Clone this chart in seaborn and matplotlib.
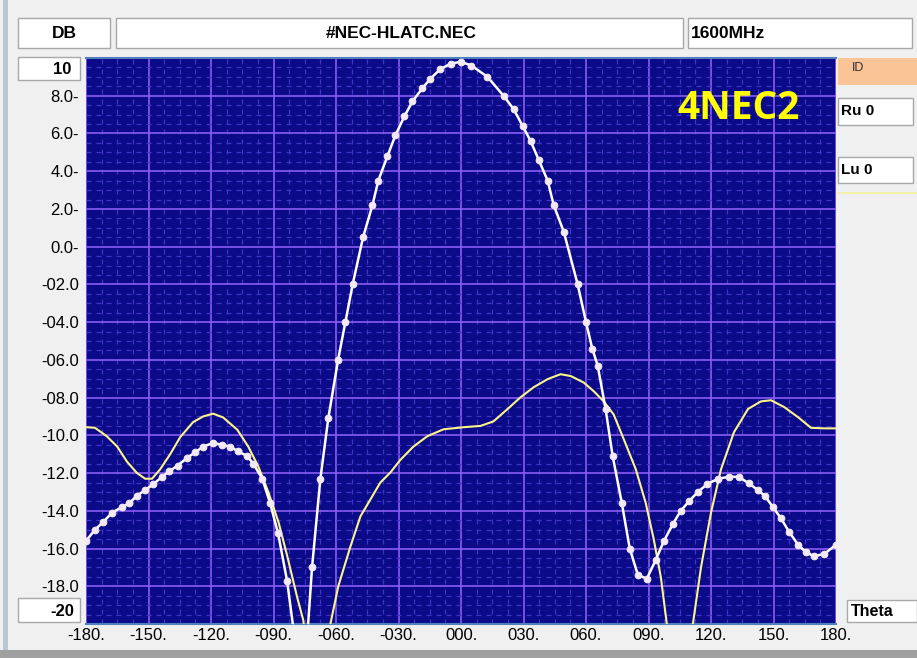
import matplotlib
matplotlib.use("Agg")
import matplotlib.pyplot as plt
from matplotlib.patches import Rectangle
from matplotlib.ticker import MultipleLocator
import seaborn as sns
import numpy as np

# ---------------- data ----------------
theta_white = [-180, -175.7, -171.8, -167.5, -162.7, -159.3, -155.5, -151.6, -147.8, -143.5,
               -140, -136, -131.5, -127.6, -123.8, -119, -114.6, -110.8, -107, -102.6,
               -99.7, -95.4, -91.6, -87.8, -83.5, -80.5, -77, -73.5, -71.5, -67.5,
               -63.7, -59, -55.5, -52, -47, -42.5, -39.7, -35.3, -31.5, -27.2,
               -23.3, -18.5, -14.7, -10, -5, 0, 5, 12.7, 20.4, 25.2,
               29.6, 33.4, 37.3, 41.6, 44.5, 49.3, 56, 60, 63, 65.6,
               69.4, 72.8, 77.2, 81, 84.9, 89.2, 93.5, 97.4, 101.7, 105.5,
               109.4, 113.7, 118, 123.3, 128.6, 133.4, 138.2, 142.5, 145.8, 149.7,
               153.6, 157.4, 161.8, 165.6, 169.4, 174.2, 180]
db_white = [-15.6, -15.0, -14.6, -14.1, -13.8, -13.6, -13.2, -12.9, -12.6, -12.2,
            -11.9, -11.6, -11.2, -10.9, -10.6, -10.4, -10.5, -10.6, -10.85, -11.1,
            -11.5, -12.3, -13.6, -15.2, -17.7, -20.2, -26.0, -20.2, -17.0, -12.3,
            -9.1, -6.0, -4.0, -2.0, 0.5, 2.2, 3.5, 4.8, 5.9, 6.9,
            7.7, 8.4, 8.9, 9.4, 9.7, 9.8, 9.6, 9.0, 8.0, 7.3,
            6.4, 5.6, 4.6, 3.5, 2.2, 0.8, -2.0, -4.0, -5.4, -6.3,
            -8.6, -11.1, -13.6, -16.0, -17.4, -17.6, -16.6, -15.6, -14.7, -14.0,
            -13.5, -13.0, -12.6, -12.3, -12.2, -12.2, -12.55, -12.9, -13.2, -13.8,
            -14.4, -15.1, -15.8, -16.2, -16.4, -16.3, -15.8]

theta_yellow = [-180, -175.7, -170, -165, -160.3, -155.5, -151.6, -148.3, -144.4, -139.6,
                -134.8, -128.6, -123.8, -119, -114.2, -107.4, -102.1, -97.3, -92.5, -87.6,
                -83.4, -78.6, -75.7, -74.5, -69, -63.4, -62.7, -58.9, -53.1, -48.3,
                -43.5, -38.7, -33.9, -29.1, -22.9, -16.2, -8.4, 1.2, 9.4, 15.6,
                22.4, 28.6, 34.9, 41.6, 47.8, 52.7, 58.9, 63.7, 68.5, 73.3,
                78.1, 83.9, 88.7, 92.5, 95.9, 98.8, 100, 105, 110, 111.3,
                115.2, 120, 124.8, 131, 137.8, 144, 148.8, 155.1, 161.8, 168,
                174.2, 180]
db_yellow = [-9.57, -9.6, -10.05, -10.6, -11.4, -12.0, -12.3, -12.3, -11.8, -11.0,
             -10.1, -9.3, -9.0, -8.85, -9.05, -9.7, -10.6, -11.65, -13.0, -14.6,
             -16.4, -18.6, -19.8, -21.0, -30.0, -21.0, -20.0, -18.0, -15.9, -14.3,
             -13.4, -12.5, -11.97, -11.3, -10.6, -10.05, -9.68, -9.57, -9.5, -9.26,
             -8.6, -7.98, -7.45, -7.02, -6.76, -6.86, -7.2, -7.66, -8.2, -8.9,
             -10.2, -11.8, -13.6, -15.5, -17.5, -20.0, -21.5, -30.0, -21.5, -20.0,
             -17.0, -14.1, -11.8, -9.84, -8.6, -8.2, -8.14, -8.5, -9.04, -9.6,
             -9.63, -9.63]

x_ticks = [-180, -150, -120, -90, -60, -30, 0, 30, 60, 90, 120, 150, 180]
x_labels = ["-180.", "-150.", "-120.", "-090.", "-060.", "-030.", "000.",
            "030.", "060.", "090.", "120.", "150.", "180."]
y_ticks = [8, 6, 4, 2, 0, -2, -4, -6, -8, -10, -12, -14, -16, -18]
y_labels = ["8.0-", "6.0-", "4.0-", "2.0-", "0.0-", "-02.0", "-04.0", "-06.0",
            "-08.0", "-10.0", "-12.0", "-14.0", "-16.0", "-18.0"]

title_file = "#NEC-HLATC.NEC"
title_freq = "1600MHz"
unit_label = "DB"
logo = "4NEC2"

# ---------------- figure ----------------
W, H = 917, 658
FONT = ["Liberation Sans", "DejaVu Sans"]
fig = plt.figure(figsize=(W / 100, H / 100), dpi=100, facecolor="#f0f0f0")


def box(x, y, w, h, fc="white", ec="#a8a8a8", lw=1.0, z=1):
    fig.add_artist(Rectangle((x / W, 1 - (y + h) / H), w / W, h / H,
                             transform=fig.transFigure, facecolor=fc,
                             edgecolor=ec, linewidth=lw, zorder=z))


def ftext(x, y, s, ha="center", **kw):
    fig.text(x / W, 1 - y / H, s, ha=ha, va="center", **kw)


# window frame
box(3, 0, 5, 650, fc="#b9c6d3", ec="none")
box(0, 650, W, 8, fc="#a0a0a0", ec="none")
# header boxes
box(18, 18, 92, 30)
box(116, 18, 567, 30)
box(688, 18, 224, 30)
ftext(64, 33, unit_label, fontsize=12.5, family=FONT, weight="bold")
ftext(401, 33, title_file, fontsize=12.5, family=FONT, weight="bold")
ftext(691, 33, title_freq, ha="left", fontsize=12.5, family=FONT, weight="bold")
# y end boxes
box(18, 57, 62, 23)
box(18, 598, 62, 24)
ftext(62, 69, "10", fontsize=12, family=FONT, weight="bold")
ftext(62, 611, "-20", fontsize=12, family=FONT, weight="bold")
# right panel
box(838, 58, 79, 27, fc="#fbc496", ec="none")
ftext(852, 68, "ID", ha="left", fontsize=9, family=FONT, color="#333333")
box(838, 98, 75, 27)
ftext(841, 111, "Ru 0", ha="left", fontsize=11, family=FONT, weight="bold")
box(838, 157, 75, 26)
ftext(841, 170, "Lu 0", ha="left", fontsize=11, family=FONT, weight="bold")
box(838, 192, 79, 2, fc="#f2f0a8", ec="none")
box(847, 600, 70, 22)
ftext(851, 612, "Theta", ha="left", fontsize=11.5, family=FONT, weight="bold")

# ---------------- axes ----------------
ax = fig.add_axes([86 / W, 1 - 624 / H, 750 / W, 566 / H])
ax.set_facecolor("#0b0a88")
ax.set_xlim(-180, 180)
ax.set_ylim(-20, 10)

ax.xaxis.set_major_locator(MultipleLocator(30))
ax.xaxis.set_minor_locator(MultipleLocator(7.5))
ax.yaxis.set_major_locator(MultipleLocator(2))
ax.yaxis.set_minor_locator(MultipleLocator(0.5))
ax.grid(which="minor", color="#3f35c4", linewidth=0.9, linestyle=(0, (4, 4)))
ax.grid(which="major", color="#8a5cf2", linewidth=1.2, linestyle="-")
ax.set_axisbelow(True)

sns.lineplot(x=theta_yellow, y=db_yellow, ax=ax, color="#fbf58a", linewidth=1.5,
             sort=False, zorder=3)
sns.lineplot(x=theta_white, y=db_white, ax=ax, color="white", linewidth=1.8,
             marker="o", markersize=4.8, markerfacecolor="#f4eaf4",
             markeredgecolor="#f4eaf4", sort=False, zorder=4)

ax.set_xticks(x_ticks, x_labels, family=FONT, fontsize=12)
ax.set_yticks(y_ticks, y_labels, family=FONT, fontsize=12)
ax.tick_params(which="both", length=0)
ax.tick_params(axis="x", pad=3)
ax.tick_params(axis="y", pad=5)
ax.set_xlabel("")
ax.set_ylabel("")
for side in ["left", "right"]:
    ax.spines[side].set_visible(False)
for side in ["top", "bottom"]:
    ax.spines[side].set_color("#4f7fbf")
    ax.spines[side].set_linewidth(1.5)

ax.text(0.87, 0.91, logo, transform=ax.transAxes, ha="center", va="center",
        color="#ffff00", fontsize=28, weight="bold", family=["Open Sans", "DejaVu Sans"])

fig.savefig("out.png", dpi=100, facecolor=fig.get_facecolor())
